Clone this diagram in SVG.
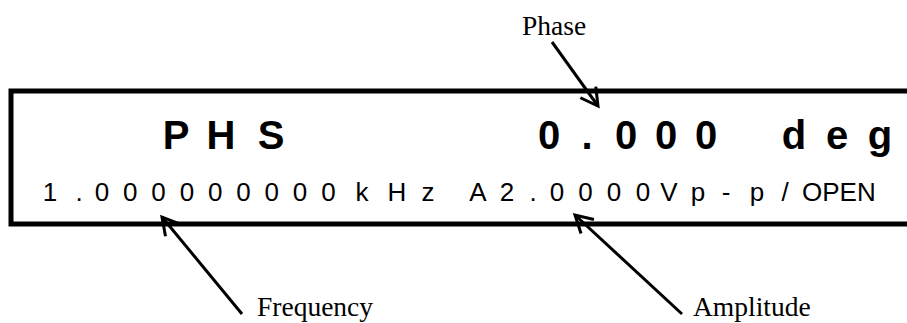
<svg xmlns="http://www.w3.org/2000/svg" width="907" height="323" viewBox="0 0 907 323">
  <style>
    .frame { fill: none; stroke: #000; stroke-width: 5; stroke-linejoin: miter; stroke-linecap: butt; }
    .big { font-family: "Liberation Sans", Arial, sans-serif; font-weight: bold; font-size: 40px; fill: #000; }
    .small { font-family: "Liberation Sans", Arial, sans-serif; font-size: 26px; fill: #000; }
    .label { font-family: "Liberation Serif", "Times New Roman", serif; font-size: 27.5px; fill: #000; }
    .conn { fill: none; stroke: #000; stroke-width: 3; }
  </style>
  <defs>
    <marker id="arrow" markerUnits="userSpaceOnUse" viewBox="-22 -12 26 24" refX="0" refY="0" markerWidth="26" markerHeight="24" orient="auto" overflow="visible">
      <path d="M-17,-9.5 L0,0 L-17,9.5" fill="none" stroke="#000" stroke-width="3"/>
    </marker>
  </defs>

  <g id="display">
    <path class="frame" d="M910 91 H11 V224 H910"/>
    <text class="big" text-anchor="middle" x="176 221 271" y="149">PHS</text>
    <text class="big" text-anchor="middle" x="549 587 626 666 706 794 837 880" y="149">0.000deg</text>
    <text class="small" text-anchor="middle" x="50 79 102 130.3 158.6 186.9 215.2 243.5 271.8 300.1 328.4 362 397 428" y="201">1.000000000kHz</text>
    <text class="small" text-anchor="middle" x="478 507 533 557 585.5 614 643 669 698 726 757 785" y="201">A2.0000Vp-p/</text>
    <text class="small" x="802" y="201">OPEN</text>
  </g>

  <g id="label-phase">
    <text class="label" x="522" y="35">Phase</text>
  </g>
  <g id="label-frequency">
    <text class="label" x="257" y="316">Frequency</text>
  </g>
  <g id="label-amplitude">
    <text class="label" x="693" y="316">Amplitude</text>
  </g>

  <g id="connectors">
    <line class="conn" x1="552" y1="42" x2="598" y2="106" marker-end="url(#arrow)"/>
    <line class="conn" x1="242" y1="314" x2="162" y2="217" marker-end="url(#arrow)"/>
    <line class="conn" x1="682" y1="314" x2="575" y2="215" marker-end="url(#arrow)"/>
  </g>
</svg>
